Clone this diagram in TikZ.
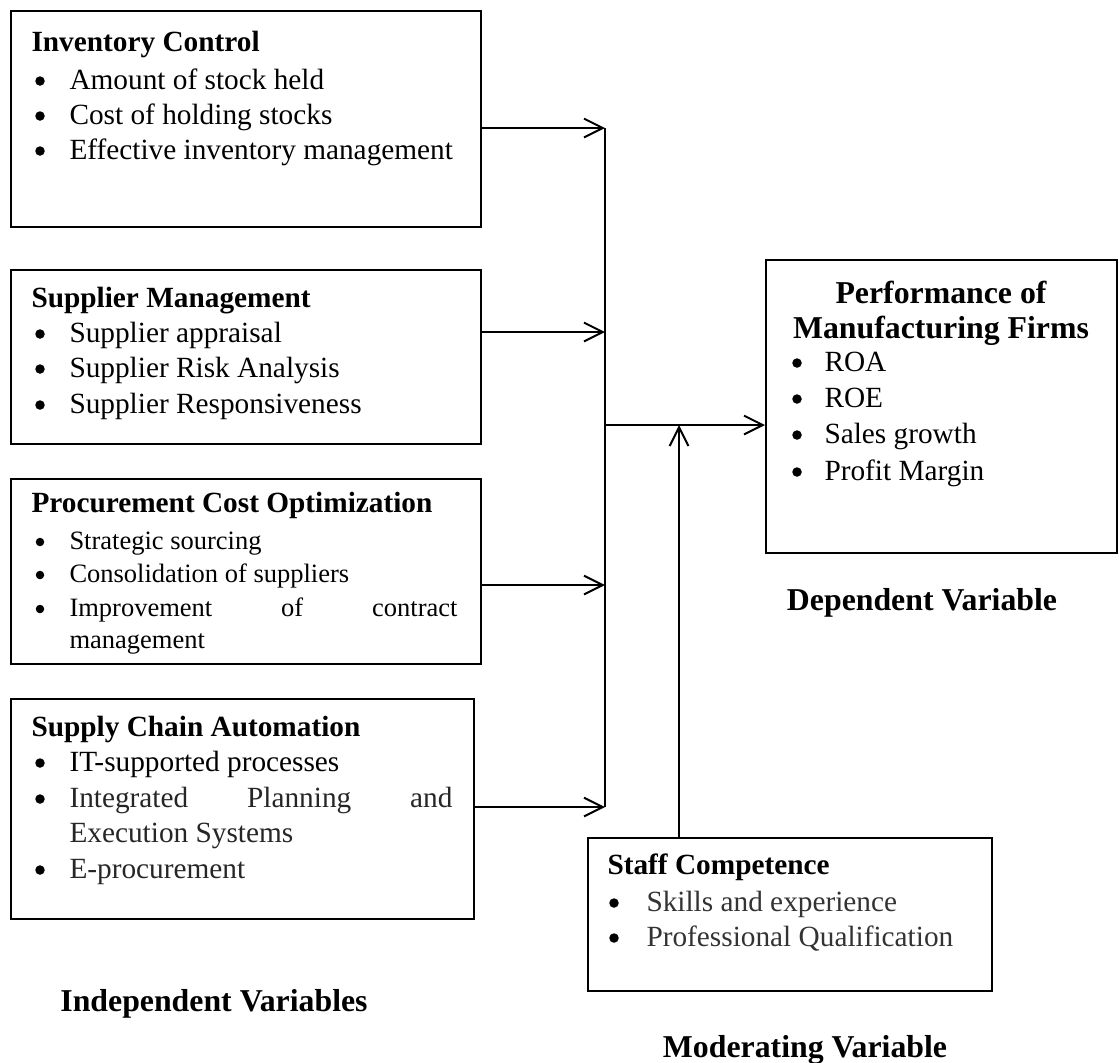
\documentclass[tikz,border=0pt]{standalone}
\usepackage{fontspec}
\setmainfont{Liberation Serif}
\usetikzlibrary{arrows.meta}
\newcommand{\myItemFont}{\fontsize{11.72}{14}\selectfont}
\newcommand{\myTitleFont}{\fontsize{11.72}{14}\selectfont\bfseries}
\newcommand{\myBigFont}{\fontsize{12.72}{15}\selectfont\bfseries}
\newcommand{\mySmallFont}{\fontsize{10.6}{13}\selectfont}
\begin{document}
\begin{tikzpicture}[x=0.4pt,y=-0.4pt,
  box/.style={draw, line width=0.8pt, rectangle, inner sep=0pt, anchor=north west},
  txt/.style={anchor=base west, inner sep=0pt, font=\myItemFont},
  stxt/.style={anchor=base west, inner sep=0pt, font=\mySmallFont},
  ttl/.style={anchor=base west, inner sep=0pt, font=\myTitleFont},
  big/.style={anchor=base, inner sep=0pt, font=\myBigFont},
  dot/.style={circle, fill=black, inner sep=0pt, minimum size=3.8pt},
  sdot/.style={circle, fill=black, inner sep=0pt, minimum size=3.4pt},
  conn/.style={line width=0.8pt, -{Straight Barb[length=7.5pt,width=7.5pt,line width=0.8pt]}},
  ln/.style={line width=0.8pt}]
\useasboundingbox (0,0) rectangle (1119,1062);

% ---------- boxes ----------
\node[box, minimum width=188pt, minimum height=86.4pt] (b1) at (10,10) {};
\node[box, minimum width=188pt, minimum height=69.6pt] (b2) at (10,269) {};
\node[box, minimum width=188pt, minimum height=74pt] (b3) at (10,478) {};
\node[box, minimum width=185.2pt, minimum height=88pt] (b4) at (10,698) {};
\node[box, minimum width=140.4pt, minimum height=117.2pt] (perf) at (765,259) {};
\node[box, minimum width=161.6pt, minimum height=61.2pt] (staff) at (587,837) {};

% ---------- box 1 ----------
\node[ttl] (t1) at (31,51) {Inventory Control};
\node[dot] (b1a) at (40,81) {};  \node[txt] (b1at) at (69,89) {Amount of stock held};
\node[dot] (b1b) at (40,116) {}; \node[txt] (b1bt) at (69,124) {Cost of holding stocks};
\node[dot] (b1c) at (40,151) {}; \node[txt] (b1ct) at (69,159) {Effective inventory management};

% ---------- box 2 ----------
\node[ttl] (t2) at (31,307) {Supplier Management};
\node[dot] (b2a) at (40,334) {}; \node[txt] (b2at) at (69,342) {Supplier appraisal};
\node[dot] (b2b) at (40,369) {}; \node[txt] (b2bt) at (69,377) {Supplier Risk Analysis};
\node[dot] (b2c) at (40,405) {}; \node[txt] (b2ct) at (69,413) {Supplier Responsiveness};

% ---------- box 3 ----------
\node[ttl] (t3) at (31,512) {Procurement Cost Optimization};
\node[sdot] (b3a) at (40,542) {}; \node[stxt] (b3at) at (69,549) {Strategic sourcing};
\node[sdot] (b3b) at (40,575) {}; \node[stxt] (b3bt) at (69,582) {Consolidation of suppliers};
\node[sdot] (b3c) at (40,609) {}; \node[stxt] (b3ct) at (69,616) {\makebox[155.2pt][s]{Improvement of contract}};
\node[stxt] (b3dt) at (69,648) {management};

% ---------- box 4 ----------
\node[ttl] (t4) at (31,736) {Supply Chain Automation};
\node[dot] (b4a) at (40,763) {}; \node[txt] (b4at) at (69,771) {IT-supported processes};
\node[dot] (b4b) at (40,799) {}; \node[txt, text=black!85] (b4bt) at (69,807) {\makebox[153.2pt][s]{Integrated Planning and}};
\node[txt, text=black!85] (b4ct) at (69,842) {Execution Systems};
\node[dot] (b4d) at (40,870) {}; \node[txt, text=black!85] (b4dt) at (69,878) {E-procurement};

% ---------- performance ----------
\node[big] (tp1) at (941,303) {Performance of};
\node[big] (tp2) at (941,338) {Manufacturing Firms};
\node[dot] (pa) at (797,363) {}; \node[txt] (pat) at (824,371) {ROA};
\node[dot] (pb) at (797,399) {}; \node[txt] (pbt) at (824,407) {ROE};
\node[dot] (pc) at (797,435) {}; \node[txt] (pct) at (824,443) {Sales growth};
\node[dot] (pd) at (797,472) {}; \node[txt] (pdt) at (824,480) {Profit Margin};

% ---------- staff ----------
\node[ttl] (ts) at (607,874) {Staff Competence};
\node[dot] (sa) at (614,903) {}; \node[txt, text=black!80] (sat) at (646,911) {Skills and experience};
\node[dot] (sb) at (614,938) {}; \node[txt, text=black!80] (sbt) at (646,946) {Professional Qualification};

% ---------- captions ----------
\node[big] (dep) at (922,610) {Dependent Variable};
\node[big] (ind) at (214,1011) {Independent Variables};
\node[big] (mod) at (805,1057) {Moderating Variable};

% ---------- connectors ----------
\coordinate (j1) at (605,128);
\coordinate (j2) at (605,332);
\coordinate (j3) at (605,585);
\coordinate (j4) at (605,807);
\coordinate (jm) at (605,425);
\coordinate (mt) at (679,425);
\draw[conn] (b1.east |- j1) -- (j1);
\draw[conn] (b2.east |- j2) -- (j2);
\draw[conn] (b3.east |- j3) -- (j3);
\draw[conn] (b4.east |- j4) -- (j4);
\draw[ln] (j1) -- (j4);
\draw[conn] (jm) -- (perf.west |- jm);
\draw[conn] (mt |- staff.north) -- (mt);
\end{tikzpicture}
\end{document}
